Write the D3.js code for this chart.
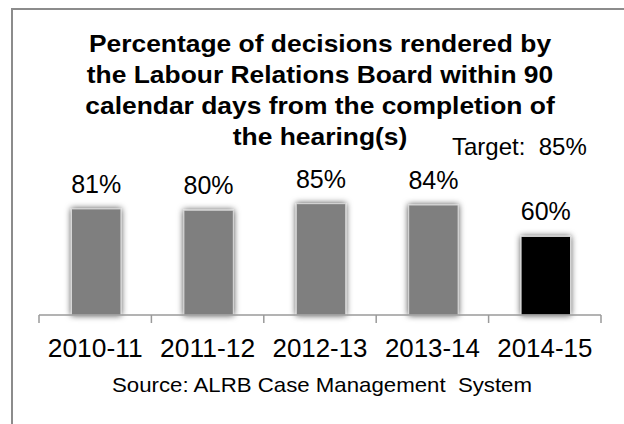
<!DOCTYPE html>
<html>
<head>
<meta charset="utf-8">
<script src="https://cdn.jsdelivr.net/npm/d3@7"></script>
<style>
  html, body { margin: 0; padding: 0; background: #fff; }
  svg { display: block; font-family: "Liberation Sans", Arial, sans-serif; }
</style>
</head>
<body>
<svg id="chart" width="624" height="424"></svg>
<script>
// ---- data ----
const categories = ["2010-11", "2011-12", "2012-13", "2013-14", "2014-15"];
const values = [81, 80, 85, 84, 60];
const valueLabels = ["81%", "80%", "85%", "84%", "60%"];
const titleLines = [
  "Percentage of decisions rendered by",
  "the Labour Relations Board within 90",
  "calendar days from the completion of",
  "the hearing(s)"
];
const targetLabel = "Target:  85%";
const sourceLabel = "Source: ALRB Case Management  System";

// ---- layout ----
const svg = d3.select("#chart");
const baseY = 315;
const x = d3.scaleBand().domain(categories).range([39, 601]).padding(0);
const y = d3.scaleLinear().domain([0, 100]).range([baseY, baseY - 131]);
const barW = x.bandwidth() * 0.44;
const highlight = "2014-15";

const defs = svg.append("defs");
const f = defs.append("filter").attr("id", "glow")
  .attr("x", "-50%").attr("y", "-20%").attr("width", "200%").attr("height", "140%");
f.append("feDropShadow").attr("dx", 0).attr("dy", 0).attr("stdDeviation", 3)
  .attr("flood-color", "#000").attr("flood-opacity", 0.7);

// outer frame (extends beyond the window at right and bottom)
svg.append("rect")
  .attr("x", 12).attr("y", 9).attr("width", 640).attr("height", 440)
  .attr("fill", "none").attr("stroke", "#8c8c8c").attr("stroke-width", 2);

// title
const title = svg.append("g").selectAll("text").data(titleLines).join("text")
  .attr("x", 320)
  .attr("y", (d, i) => 52 + i * 31)
  .attr("text-anchor", "middle")
  .attr("font-size", 24).attr("font-weight", "bold").attr("fill", "#000")
  .text(d => d);
title.each(function () {
  const w = this.getComputedTextLength();
  d3.select(this).attr("textLength", w * 1.1).attr("lengthAdjust", "spacingAndGlyphs");
});

// target
svg.append("text")
  .attr("x", 452).attr("y", 155)
  .attr("font-size", 24).attr("fill", "#000")
  .style("white-space", "pre")
  .text(targetLabel);

// bars
svg.append("g").selectAll("rect").data(categories).join("rect")
  .attr("x", d => x(d) + x.bandwidth() / 2 - barW / 2 + 1)
  .attr("y", (d, i) => y(values[i]))
  .attr("width", barW)
  .attr("height", (d, i) => baseY - y(values[i]))
  .attr("fill", d => d === highlight ? "#050505" : "#7f7f7f")
  .attr("stroke", "#d9d9d9").attr("stroke-width", 1)
  .attr("filter", "url(#glow)");

// value labels
svg.append("g").selectAll("text").data(categories).join("text")
  .attr("x", d => x(d) + x.bandwidth() / 2 + 1)
  .attr("y", (d, i) => y(values[i]) - 16)
  .attr("text-anchor", "middle")
  .attr("font-size", 25).attr("fill", "#000")
  .text((d, i) => valueLabels[i]);

// axis line and tick marks between categories
const axis = svg.append("g").attr("stroke", "#9a9a9a").attr("stroke-width", 1.5);
axis.append("line")
  .attr("x1", x.range()[0]).attr("x2", x.range()[1])
  .attr("y1", baseY).attr("y2", baseY);
const tickPos = categories.map(c => x(c)).concat([x.range()[1]]);
axis.selectAll("line.tick").data(tickPos).join("line").attr("class", "tick")
  .attr("x1", d => d).attr("x2", d => d)
  .attr("y1", baseY).attr("y2", baseY + 8);

// category labels
svg.append("g").selectAll("text").data(categories).join("text")
  .attr("x", d => x(d) + x.bandwidth() / 2)
  .attr("y", 357)
  .attr("text-anchor", "middle")
  .attr("font-size", 25).attr("fill", "#000")
  .attr("textLength", 95).attr("lengthAdjust", "spacingAndGlyphs")
  .text(d => d);

// source
svg.append("text")
  .attr("x", 112).attr("y", 392)
  .attr("font-size", 21).attr("fill", "#000")
  .attr("textLength", 420).attr("lengthAdjust", "spacingAndGlyphs")
  .style("white-space", "pre")
  .text(sourceLabel);
</script>
</body>
</html>
